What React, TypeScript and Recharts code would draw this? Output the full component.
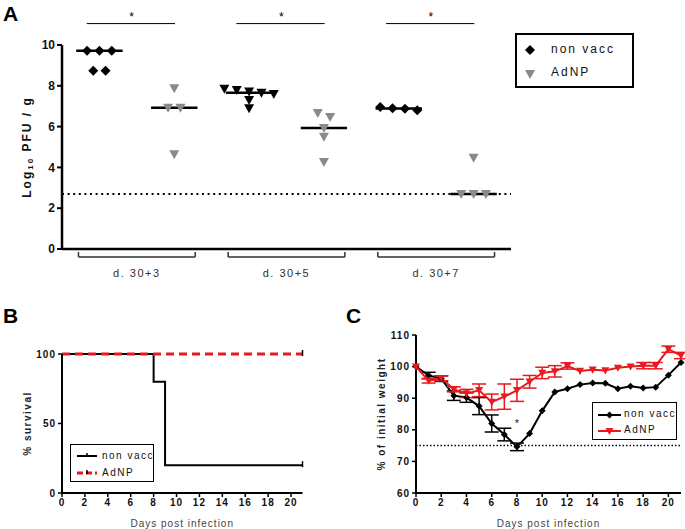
import {
  ScatterChart,
  Scatter,
  LineChart,
  Line,
  XAxis,
  YAxis,
  ReferenceLine,
  ReferenceDot,
  ErrorBar,
} from 'recharts';

const FONT = "'Liberation Sans', Arial, Helvetica, sans-serif";
const RED = '#e8191f';
const GREY = '#8a8a8a';

// panel A - viral titers
const timepoints = ['d. 30+3', 'd. 30+5', 'd. 30+7'];
const nonVaccTiter = [
  [9.72, 9.72, 9.72, 8.74, 8.74],
  [7.85, 7.8, 7.72, 7.66, 7.6, 7.3, 6.9],
  [6.96, 6.9, 6.88, 6.8],
];
const adnpTiter = [
  [7.88, 6.92, 6.92, 4.65],
  [6.67, 6.47, 5.93, 5.5, 4.26],
  [4.47, 2.7, 2.7, 2.7],
];
const detectionLimit = 2.7;
const titerTicks = [0, 2, 4, 6, 8, 10];

// panel B - survival
const survivalDays = [0, 8, 9, 21];
const survivalNonVacc = [100, 80, 20, 20];
const survivalAdnp = [100, 100, 100, 100];

// panel C - weight
const weightDays = [0, 1, 2, 3, 4, 5, 6, 7, 8, 9, 10, 11, 12, 13, 14, 15, 16, 17, 18, 19, 20, 21];
const weightNonVacc = [100, 97.2, 96.2, 90.8, 90.2, 87.5, 82, 78.5, 74.6, 78.8, 86, 92, 93, 94.3, 94.8, 94.7, 93, 93.8, 93.2, 93.5, 97.3, 101.3];
const weightNonVaccSem = [0, 1, 0.9, 1.5, 1.5, 2.7, 2.7, 2, 1.2, 0, 0, 0, 0, 0, 0, 0, 0, 0, 0, 0, 0, 0];
const weightAdnp = [100, 95.5, 96.3, 92.8, 91.5, 92.5, 88.8, 90.5, 92.5, 95.2, 98, 98.5, 100.2, 98.6, 99, 98.8, 99.6, 100, 100.3, 100.3, 105.5, 103.5];
const weightAdnpSem = [0, 0.7, 0.8, 0.8, 1.3, 2, 2.5, 4, 3.5, 2, 1.8, 1.8, 1, 0, 0, 0, 0, 0, 1, 1, 1, 1];
const weightThreshold = 75;

const dayTicks = [0, 2, 4, 6, 8, 10, 12, 14, 16, 18, 20];

// simple beeswarm: points that are close in value go side by side
function swarm(values: number[], center: number) {
  const sorted = [...values].sort((a, b) => b - a);
  const rows: number[][] = [];
  sorted.forEach((v) => {
    const last = rows[rows.length - 1];
    if (last && last[0] - v <= 0.3) last.push(v);
    else rows.push([v]);
  });
  return rows.flatMap((r) =>
    r.map((v, i) => ({ x: center + (i - (r.length - 1) / 2) * 0.165, y: v }))
  );
}

function median(values: number[]) {
  const s = [...values].sort((a, b) => a - b);
  const m = Math.floor(s.length / 2);
  return s.length % 2 ? s[m] : (s[m - 1] + s[m]) / 2;
}

const diamond = (fill: string, r: number) => (p: any) => (
  <polygon
    key={`d-${p.cx}-${p.cy}`}
    points={`${p.cx},${p.cy - r} ${p.cx + r},${p.cy} ${p.cx},${p.cy + r} ${p.cx - r},${p.cy}`}
    fill={fill}
  />
);

const triangle = (fill: string, r: number) => (p: any) => (
  <polygon
    key={`t-${p.cx}-${p.cy}`}
    points={`${p.cx - r},${p.cy - r * 0.8} ${p.cx + r},${p.cy - r * 0.8} ${p.cx},${p.cy + r}`}
    fill={fill}
  />
);

const boldTick = { fontSize: 10, fontWeight: 700, fill: '#111', fontFamily: FONT, letterSpacing: 1 };

function TiterChart() {
  return (
    <ScatterChart
      width={640}
      height={290}
      margin={{ top: 45, right: 129, left: 22, bottom: 11 }}
      style={{ position: 'absolute', left: 0, top: 0 }}
    >
      <XAxis
        type="number"
        dataKey="x"
        domain={[0, 6]}
        ticks={[1, 3, 5]}
        tickFormatter={(v) => timepoints[(v - 1) / 2]}
        tickLine={false}
        tickSize={0}
        tickMargin={20}
        axisLine={{ stroke: '#000', strokeWidth: 2.5 }}
        tick={{ fontSize: 11, fill: '#333', fontFamily: FONT, letterSpacing: 1.5 }}
        height={30}
      />
      <YAxis
        type="number"
        dataKey="y"
        domain={[0, 10]}
        ticks={titerTicks}
        width={40}
        tickSize={5}
        axisLine={{ stroke: '#000', strokeWidth: 2.5 }}
        tickLine={{ stroke: '#000', strokeWidth: 2 }}
        tick={{ fontSize: 12, fontWeight: 700, fill: '#111', fontFamily: FONT }}
        label={{
          content: (props: any) => {
            const vb = props.viewBox;
            const cx = vb.x + 5;
            const cy = vb.y + vb.height / 2;
            return (
              <text
                x={cx}
                y={cy}
                transform={`rotate(-90 ${cx} ${cy})`}
                textAnchor="middle"
                dominantBaseline="central"
                fontSize={12}
                fontWeight={700}
                fontFamily={FONT}
                letterSpacing={2}
                fill="#111"
              >
                Log<tspan fontSize={8} dy={3}>10</tspan>
                <tspan dy={-3}> PFU / g</tspan>
              </text>
            );
          },
        }}
      />
      <ReferenceLine y={detectionLimit} stroke="#000" strokeWidth={2} strokeDasharray="2 3.6" />
      {timepoints.map((t, g) => {
        const mid = 2 * g + 1;
        return [
          <ReferenceLine
            key={`sig-${t}`}
            ifOverflow="visible"
            segment={[{ x: mid - 0.67, y: 11.05 }, { x: mid + 0.51, y: 11.05 }]}
            stroke="#000"
            strokeWidth={1}
          />,
          <ReferenceDot
            key={`star-${t}`}
            ifOverflow="visible"
            x={mid - 0.07}
            y={11.05}
            shape={(p: any) => (
              <text x={p.cx} y={p.cy - 3} textAnchor="middle" fontSize={12} fontFamily={FONT} fill="#000">
                *
              </text>
            )}
          />,
          <ReferenceLine
            key={`br-${t}`}
            ifOverflow="visible"
            segment={[{ x: mid - 0.78, y: -0.39 }, { x: mid + 0.78, y: -0.39 }]}
            stroke="#333"
            strokeWidth={1.5}
          />,
          <ReferenceLine
            key={`brl-${t}`}
            ifOverflow="visible"
            segment={[{ x: mid - 0.78, y: -0.39 }, { x: mid - 0.78, y: -0.15 }]}
            stroke="#333"
            strokeWidth={1.5}
          />,
          <ReferenceLine
            key={`brr-${t}`}
            ifOverflow="visible"
            segment={[{ x: mid + 0.78, y: -0.39 }, { x: mid + 0.78, y: -0.15 }]}
            stroke="#333"
            strokeWidth={1.5}
          />,
        ];
      })}
      {nonVaccTiter.map((vals, g) => (
        <Scatter
          key={`nv-${g}`}
          data={swarm(vals, 2 * g + 0.5)}
          fill="#000"
          shape={g === 1 ? triangle('#000', 5) : diamond('#000', 5)}
          isAnimationActive={false}
        />
      ))}
      {adnpTiter.map((vals, g) => (
        <Scatter
          key={`ad-${g}`}
          data={swarm(vals, 2 * g + 1.5)}
          fill={GREY}
          shape={triangle(GREY, 5)}
          isAnimationActive={false}
        />
      ))}
      {nonVaccTiter.map((vals, g) => {
        const m = median(vals);
        const c = 2 * g + 0.5;
        return (
          <ReferenceLine
            key={`mnv-${g}`}
            segment={[{ x: c - 0.31, y: m }, { x: c + 0.31, y: m }]}
            stroke="#000"
            strokeWidth={2.5}
          />
        );
      })}
      {adnpTiter.map((vals, g) => {
        const m = median(vals);
        const c = 2 * g + 1.5;
        return (
          <ReferenceLine
            key={`mad-${g}`}
            segment={[{ x: c - 0.31, y: m }, { x: c + 0.31, y: m }]}
            stroke="#000"
            strokeWidth={2.5}
          />
        );
      })}
    </ScatterChart>
  );
}

const censorMark = (color: string) => (p: any) =>
  p.index === survivalDays.length - 1 ? (
    <line key={`c-${p.index}`} x1={p.cx} x2={p.cx} y1={p.cy - 4} y2={p.cy + 2} stroke={color} strokeWidth={1.5} />
  ) : (
    <g key={`c-${p.index}`} />
  );

function SurvivalChart() {
  const data = survivalDays.map((d, i) => ({ day: d, nv: survivalNonVacc[i], ad: survivalAdnp[i] }));
  return (
    <LineChart
      width={320}
      height={229}
      data={data}
      margin={{ top: 54, right: 17.5, left: 22, bottom: 0 }}
      style={{ position: 'absolute', left: 0, top: 300 }}
    >
      <XAxis
        type="number"
        dataKey="day"
        domain={[0, 21]}
        ticks={dayTicks}
        height={36}
        tickSize={4}
        axisLine={{ stroke: '#000', strokeWidth: 2 }}
        tickLine={{ stroke: '#000', strokeWidth: 1.5 }}
        tick={boldTick}
        label={{ value: 'Days post infection', position: 'insideBottom', offset: 2, fontSize: 10, fill: '#444', fontFamily: FONT, letterSpacing: 1 }}
      />
      <YAxis
        type="number"
        domain={[0, 100]}
        ticks={[0, 50, 100]}
        width={40}
        tickSize={4}
        axisLine={{ stroke: '#000', strokeWidth: 2 }}
        tickLine={{ stroke: '#000', strokeWidth: 1.5 }}
        tick={boldTick}
        label={{
          value: '% survival',
          angle: -90,
          position: 'insideLeft',
          offset: 5,
          style: { textAnchor: 'middle' },
          fontSize: 10,
          fontWeight: 700,
          fill: '#222',
          fontFamily: FONT,
          letterSpacing: 1.5,
        }}
      />
      <Line type="stepAfter" dataKey="nv" stroke="#000" strokeWidth={2} dot={censorMark('#000')} isAnimationActive={false} />
      <Line
        type="stepAfter"
        dataKey="ad"
        stroke={RED}
        strokeWidth={3}
        strokeDasharray="8 5"
        dot={censorMark('#000')}
        isAnimationActive={false}
      />
    </LineChart>
  );
}

function WeightChart() {
  const data = weightDays.map((d, i) => ({
    day: d,
    nv: weightNonVacc[i],
    nvErr: weightNonVaccSem[i],
    ad: weightAdnp[i],
    adErr: weightAdnpSem[i],
  }));
  return (
    <LineChart
      width={355}
      height={229}
      data={data}
      margin={{ top: 35, right: 4, left: 46, bottom: 0 }}
      style={{ position: 'absolute', left: 330, top: 300 }}
    >
      <XAxis
        type="number"
        dataKey="day"
        domain={[0, 21]}
        ticks={dayTicks}
        height={36}
        tickSize={4}
        axisLine={{ stroke: '#000', strokeWidth: 2 }}
        tickLine={{ stroke: '#000', strokeWidth: 1.5 }}
        tick={boldTick}
        label={{ value: 'Days post infection', position: 'insideBottom', offset: 2, fontSize: 10, fill: '#444', fontFamily: FONT, letterSpacing: 1 }}
      />
      <YAxis
        type="number"
        domain={[60, 110]}
        ticks={[60, 70, 80, 90, 100, 110]}
        width={40}
        tickSize={4}
        axisLine={{ stroke: '#000', strokeWidth: 2 }}
        tickLine={{ stroke: '#000', strokeWidth: 1.5 }}
        tick={boldTick}
        label={{
          value: '%  of initial weight',
          angle: -90,
          position: 'insideLeft',
          offset: 5,
          style: { textAnchor: 'middle' },
          fontSize: 10,
          fontWeight: 700,
          fill: '#222',
          fontFamily: FONT,
          letterSpacing: 1.5,
        }}
      />
      <ReferenceLine y={weightThreshold} stroke="#000" strokeWidth={1.5} strokeDasharray="1.5 2" />
      <Line
        type="linear"
        dataKey="nv"
        stroke="#000"
        strokeWidth={2}
        dot={diamond('#000', 3.5)}
        isAnimationActive={false}
      >
        <ErrorBar dataKey="nvErr" width={7} stroke="#000" strokeWidth={1.5} direction="y" />
      </Line>
      <Line
        type="linear"
        dataKey="ad"
        stroke={RED}
        strokeWidth={2}
        dot={triangle(RED, 4)}
        isAnimationActive={false}
      >
        <ErrorBar dataKey="adErr" width={7} stroke={RED} strokeWidth={1.5} direction="y" />
      </Line>
      <ReferenceDot
        x={8}
        y={82.5}
        shape={(p: any) => (
          <text x={p.cx} y={p.cy + 5} textAnchor="middle" fontSize={11} fontFamily={FONT} fill="#222">
            *
          </text>
        )}
      />
    </LineChart>
  );
}

const panelLabel = (text: string, left: number, top: number) => (
  <div
    style={{ position: 'absolute', left, top, fontFamily: FONT, fontSize: 21, fontWeight: 700, lineHeight: '21px' }}
  >
    {text}
  </div>
);

const legendText = { fontFamily: FONT, color: '#111', position: 'absolute' as const, whiteSpace: 'nowrap' as const };

export default function App() {
  return (
    <div style={{ position: 'absolute', left: 0, top: 0, width: 685, height: 529, background: '#fff', overflow: 'hidden' }}>
      {panelLabel('A', 3, 3)}
      {panelLabel('B', 3, 305)}
      {panelLabel('C', 346, 305)}
      <TiterChart />
      <SurvivalChart />
      <WeightChart />

      {/* legend A */}
      <div style={{ position: 'absolute', left: 515, top: 33, width: 115, height: 51, border: '2px solid #000' }}>
        <svg width={20} height={50} style={{ position: 'absolute', left: 3, top: 0 }}>
          <polygon points="10,10 15,15 10,20 5,15" fill="#000" />
          <polygon points="5,35 15,35 10,44" fill={GREY} />
        </svg>
        <div style={{ ...legendText, left: 34, top: 7, fontSize: 12, letterSpacing: 2 }}>non vacc</div>
        <div style={{ ...legendText, left: 34, top: 30, fontSize: 12, letterSpacing: 2 }}>AdNP</div>
      </div>

      {/* legend B */}
      <div style={{ position: 'absolute', left: 70, top: 444, width: 82, height: 36, border: '1.5px solid #000' }}>
        <svg width={30} height={36} style={{ position: 'absolute', left: 4, top: 0 }}>
          <line x1={2} x2={22} y1={11} y2={11} stroke="#000" strokeWidth={2} />
          <line x1={12} x2={12} y1={8} y2={12} stroke="#000" strokeWidth={1.5} />
          <line x1={2} x2={22} y1={28} y2={28} stroke={RED} strokeWidth={3} strokeDasharray="6 3" />
          <line x1={12} x2={12} y1={25} y2={29} stroke="#000" strokeWidth={1.5} />
        </svg>
        <div style={{ ...legendText, left: 31, top: 5, fontSize: 10, letterSpacing: 1.5 }}>non vacc</div>
        <div style={{ ...legendText, left: 31, top: 22, fontSize: 10, letterSpacing: 1.5 }}>AdNP</div>
      </div>

      {/* legend C */}
      <div style={{ position: 'absolute', left: 592, top: 402, width: 83, height: 36, border: '1.5px solid #000' }}>
        <svg width={30} height={36} style={{ position: 'absolute', left: 3, top: 0 }}>
          <line x1={2} x2={25} y1={12} y2={12} stroke="#000" strokeWidth={2} />
          <polygon points="13.5,8.5 17,12 13.5,15.5 10,12" fill="#000" />
          <line x1={2} x2={25} y1={28} y2={28} stroke={RED} strokeWidth={2} />
          <polygon points="9.5,25 17.5,25 13.5,32" fill={RED} />
        </svg>
        <div style={{ ...legendText, left: 31, top: 5, fontSize: 10, letterSpacing: 1.5 }}>non vacc</div>
        <div style={{ ...legendText, left: 31, top: 21, fontSize: 10, letterSpacing: 1.5 }}>AdNP</div>
      </div>
    </div>
  );
}
